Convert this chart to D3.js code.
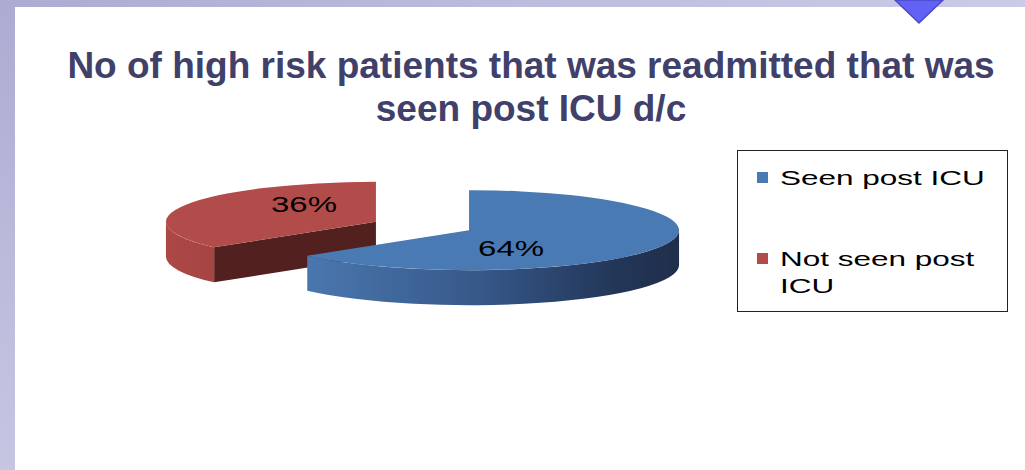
<!DOCTYPE html>
<html>
<head>
<meta charset="utf-8">
<script src="https://cdn.jsdelivr.net/npm/d3@7"></script>
<style>
  body { margin: 0; background: #fff; }
  svg { display: block; font-family: "Liberation Sans", Arial, sans-serif; }
</style>
</head>
<body>
<svg id="chart" width="1025" height="470"></svg>
<script>
// datos del grafico
const categories = ["Seen post ICU", "Not seen post ICU"]
const values = [64, 36]
const pctLabels = ["64%", "36%"]
const titleLines = ["No of high risk patients that was readmitted that was", "seen post ICU d/c"]
const legendLines = [["Seen post ICU"], ["Not seen post", "ICU"]]

const W = 1025, H = 470
const svg = d3.select("#chart")
const defs = svg.append("defs")

// fondo tipo diapositiva (banda de arriba y borde izquierdo)
const band = defs.append("linearGradient").attr("id", "band")
band.append("stop").attr("offset", 0).attr("stop-color", "#acacd2")
band.append("stop").attr("offset", 1).attr("stop-color", "#cbcbe8")
const side = defs.append("linearGradient").attr("id", "side")
  .attr("x1", 0).attr("y1", 0).attr("x2", 0).attr("y2", 1)
side.append("stop").attr("offset", 0).attr("stop-color", "#acacd2")
side.append("stop").attr("offset", 1).attr("stop-color", "#c6c6e3")

svg.append("rect").attr("x", 0).attr("y", 0).attr("width", W).attr("height", 7).attr("fill", "url(#band)")
svg.append("rect").attr("x", 0).attr("y", 0).attr("width", 15).attr("height", H).attr("fill", "url(#side)")
svg.append("path")
  .attr("d", "M895,0 L943,0 L919,23 Z")
  .attr("fill", "#6262f6").attr("stroke", "#4a4ac8").attr("stroke-width", 1.5)

// titulo
svg.append("g").selectAll("text")
  .data(titleLines)
  .join("text")
  .attr("x", 531)
  .attr("y", (d, i) => 78 + i * 43)
  .attr("text-anchor", "middle")
  .attr("font-size", 37)
  .attr("font-weight", "bold")
  .attr("fill", "#40406a")
  .text(d => d)

// pie 3D "a mano": elipse + profundidad
const cx = 422.5, cy = 226
const rx = 210, ry = 40, depth = 35
const explode = 0.245
const sx = 1.5 // el grafico original viene estirado en horizontal

const topColors = ["#4a7ab4", "#b24c4a"]
const cutColors = ["#2c4466", "#52201f"]

const pie = d3.pie().sort(null).value(d => d)
const arcs = pie(values)

const bg = defs.append("linearGradient").attr("id", "wall0")
  .attr("gradientUnits", "userSpaceOnUse").attr("x1", 300).attr("x2", 690).attr("y1", 0).attr("y2", 0)
bg.append("stop").attr("offset", 0).attr("stop-color", "#4b78b0")
bg.append("stop").attr("offset", 0.45).attr("stop-color", "#37598a")
bg.append("stop").attr("offset", 0.8).attr("stop-color", "#233759")
bg.append("stop").attr("offset", 1).attr("stop-color", "#1f2d48")
const rg = defs.append("linearGradient").attr("id", "wall1")
  .attr("gradientUnits", "userSpaceOnUse").attr("x1", 160).attr("x2", 215).attr("y1", 0).attr("y2", 0)
rg.append("stop").attr("offset", 0).attr("stop-color", "#ad4946")
rg.append("stop").attr("offset", 1).attr("stop-color", "#a54442")

const arcGen = d3.arc().innerRadius(0).outerRadius(rx)

const slices = arcs.map((a, i) => {
  const mid = (a.startAngle + a.endAngle) / 2
  return {
    a, i, mid,
    x: cx + Math.sin(mid) * rx * explode,
    y: cy - Math.cos(mid) * ry * explode
  }
})

const P = (s, ang, z) => [s.x + rx * Math.sin(ang), s.y - ry * Math.cos(ang) + z]

// los de atras primero (el rojo)
const order = slices.slice().sort((p, q) => Math.cos(q.mid) - Math.cos(p.mid))

const pieG = svg.append("g")
order.forEach(s => {
  const g = pieG.append("g")
  const a0 = s.a.startAngle, a1 = s.a.endAngle

  // cara del corte visible (solo la del inicio si mira hacia adelante)
  if (Math.cos(a0 - Math.PI / 2) < 0 && a0 > 0) {
    const c0 = [s.x, s.y], c1 = P(s, a0, 0), c2 = P(s, a0, depth), c3 = [s.x, s.y + depth]
    g.append("path")
      .attr("d", `M${c0}L${c1}L${c2}L${c3}Z`)
      .attr("fill", cutColors[s.i])
  }

  // pared exterior, solo la mitad de adelante
  const b0 = Math.max(a0, Math.PI / 2), b1 = Math.min(a1, Math.PI * 1.5)
  if (b1 > b0) {
    const p0 = P(s, b0, 0), p1 = P(s, b1, 0), p2 = P(s, b1, depth), p3 = P(s, b0, depth)
    g.append("path")
      .attr("d", `M${p0}A${rx},${ry} 0 0 1 ${p1}L${p2}A${rx},${ry} 0 0 0 ${p3}Z`)
      .attr("fill", `url(#wall${s.i})`)
  }

  // tapa de arriba
  g.append("path")
    .attr("transform", `translate(${s.x},${s.y}) scale(1,${ry / rx})`)
    .attr("d", arcGen(s.a))
    .attr("fill", topColors[s.i])
})

// etiquetas de porcentaje
slices.forEach(s => {
  const lx = s.x + Math.sin(s.mid) * rx * 0.3 - 15
  const ly = s.y - Math.cos(s.mid) * ry * 1.05 + 8
  svg.append("text")
    .attr("transform", `translate(${lx},${ly}) scale(${sx},1)`)
    .attr("text-anchor", "middle")
    .attr("font-size", 22)
    .attr("fill", "#000")
    .text(pctLabels[s.i])
})

// leyenda
const leg = svg.append("g")
leg.append("rect")
  .attr("x", 737.5).attr("y", 150.5).attr("width", 270).attr("height", 161)
  .attr("fill", "#fff").attr("stroke", "#222").attr("stroke-width", 1)

const itemY = [172, 253]
categories.forEach((c, i) => {
  leg.append("rect")
    .attr("x", 757).attr("y", itemY[i]).attr("width", 11).attr("height", 11)
    .attr("fill", topColors[i])
  legendLines[i].forEach((line, j) => {
    leg.append("text")
      .attr("transform", `translate(780,${itemY[i] + 13 + j * 27}) scale(${sx},1)`)
      .attr("font-size", 21)
      .attr("fill", "#000")
      .text(line)
  })
})
</script>
</body>
</html>
